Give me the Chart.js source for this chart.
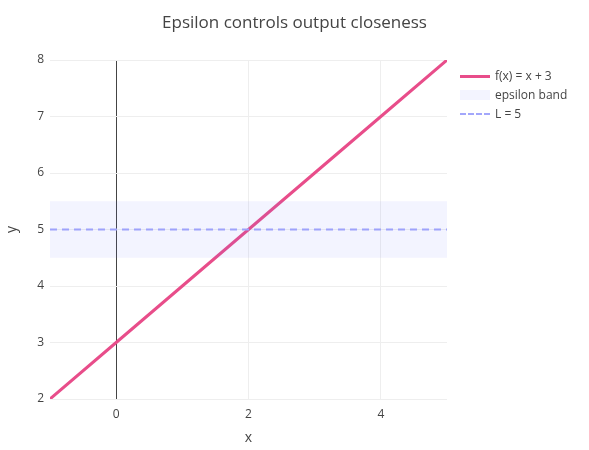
<!DOCTYPE html>
<html><head><meta charset="utf-8">
<script src="https://cdn.jsdelivr.net/npm/chart.js@4"></script>
<style>
body{margin:0;background:#fff;font-family:"Open Sans",sans-serif;}
#wrap{position:relative;width:589px;height:450px;}
#title{position:absolute;top:10px;left:0;width:589px;text-align:center;font-size:17px;color:#444;}
#legend{position:absolute;left:460px;top:66px;font-size:12px;color:#444;}
.item{display:flex;align-items:center;height:19px;}
.sw{width:30px;height:10px;margin-right:5px;position:relative;}
</style></head><body>
<div id="wrap">
<canvas id="c" width="589" height="450"></canvas>
<div id="title">Epsilon controls output closeness</div>
<div id="legend">
 <div class="item"><div class="sw"><div style="position:absolute;top:4px;width:30px;height:3px;background:#e84d8a"></div></div>f(x) = x + 3</div>
 <div class="item"><div class="sw" style="background:rgba(99,110,250,0.08)"></div>epsilon band</div>
 <div class="item"><div class="sw"><div style="position:absolute;top:4px;width:30px;border-top:2px dashed #a3a7fb"></div></div>L = 5</div>
</div>
</div>
<script>
// data
const xs = [-1, 0, 1, 2, 3, 4, 5];
const fx = [2, 3, 4, 5, 6, 7, 8];
const bandLow = [4.5, 4.5];
const bandHigh = [5.5, 5.5];
const limitL = [5, 5];
const bandX = [-1, 5];
const xTicks = [0, 2, 4];

const pts = (a, b) => a.map((x, i) => ({x: x, y: b[i]}));

new Chart(document.getElementById('c'), {
  type: 'line',
  data: {
    datasets: [
      {data: pts(bandX, bandLow), borderWidth: 0, pointRadius: 0, fill: false},
      {data: pts(bandX, bandHigh), borderWidth: 0, pointRadius: 0, fill: '-1', backgroundColor: 'rgba(99,110,250,0.08)'},
      {data: pts(bandX, limitL), borderColor: '#a3a7fb', borderWidth: 2, borderDash: [7, 5], pointRadius: 0},
      {data: pts(xs, fx), borderColor: '#e84d8a', borderWidth: 3, pointRadius: 0}
    ]
  },
  options: {
    responsive: false, animation: false,
    layout: {padding: {top: 60, right: 142, left: 0, bottom: 0}},
    plugins: {legend: {display: false}, tooltip: {enabled: false}},
    scales: {
      x: {
        type: 'linear', min: -1, max: 5,
        afterBuildTicks: s => { s.ticks = xTicks.map(v => ({value: v})); },
        afterFit: s => { s.height = 51; },
        grid: {color: c => c.tick && c.tick.value === 0 ? '#444' : '#eee', drawTicks: false},
        border: {display: false},
        ticks: {color: '#444', font: {size: 12, family: 'Open Sans'}, padding: 8},
        title: {display: true, text: 'x', color: '#444', font: {size: 14, family: 'Open Sans'}, padding: {top: 8}}
      },
      y: {
        min: 2, max: 8,
        ticks: {stepSize: 1, color: '#444', font: {size: 12, family: 'Open Sans'}, padding: 6},
        afterFit: s => { s.width = 50; },
        grid: {color: '#eee', drawTicks: false},
        border: {display: false},
        title: {display: true, text: 'y', color: '#444', font: {size: 14, family: 'Open Sans'}}
      }
    }
  }
});
</script>
</body></html>
